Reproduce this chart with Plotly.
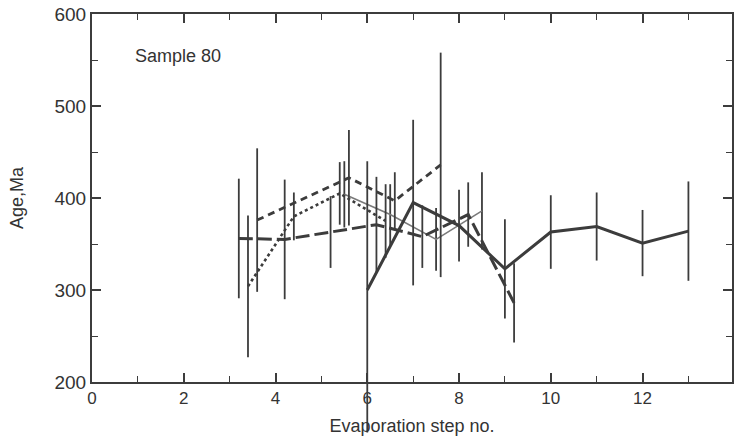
import plotly.graph_objects as go

# Series A (thick solid)
a_x = [6, 7, 8, 9, 10, 11, 12, 13]
a_y = [300, 395, 370, 323, 363, 369, 351, 364]
a_err_plus = [140, 90, 39, 54, 40, 37, 36, 54]
a_err_minus = [155, 90, 39, 54, 40, 37, 36, 54]

# Series B (long dashes)
b_x = [3.2, 4.2, 5.2, 6.2, 7.2, 8.2, 9.2]
b_y = [356, 355, 363, 371, 358, 382, 286]
b_err = [65, 65, 39, 52, 34, 35, 43]

# Series C (short dashes)
c_x = [3.6, 5.6, 6.6, 7.6]
c_y = [376, 422, 397, 436]
c_err = [78, 52, 31, 122]

# Series D (dotted)
d_x = [3.4, 4.4, 5.4, 6.4]
d_y = [304, 380, 405, 375]
d_err = [77, 26, 34, 40]

# Series E (thin grey solid)
e_x = [5.5, 6.5, 7.5, 8.5]
e_y = [404, 382, 355, 386]
e_err = [36, 33, 34, 42]

x_ticks = [0, 2, 4, 6, 8, 10, 12]
y_ticks = [200, 300, 400, 500, 600]

X_RANGE = [0, 13.95]
Y_RANGE = [200, 600]

W, H = 734, 441
M_L, M_R, M_T, M_B = 92, 2, 14, 0
AXIS_BOTTOM_PX = 382  # row of the bottom spine

dark = "#3c3c3c"
font_family = "Liberation Sans, Arial, Helvetica, sans-serif"

# main y-axis occupies the upper part of the plotting area; a hidden
# full-height subplot shares the same scale so long error bars can run
# past the bottom spine as in the original.
area_h = H - M_T - M_B
main_h = AXIS_BOTTOM_PX - M_T
y_dom_bottom = 1 - main_h / area_h
px_per_unit = main_h / (Y_RANGE[1] - Y_RANGE[0])
y2_range = [Y_RANGE[0] - (H - M_B - AXIS_BOTTOM_PX) / px_per_unit, Y_RANGE[1]]

fig = go.Figure()


def err(plus, minus=None):
    d = dict(type="data", array=plus, visible=True, color=dark,
             thickness=1.8, width=0)
    if minus is not None:
        d["symmetric"] = False
        d["arrayminus"] = minus
    return d


fig.add_trace(go.Scatter(x=e_x, y=e_y, mode="lines",
                         line=dict(color="#7a7a7a", width=1.6),
                         error_y=err(e_err)))
fig.add_trace(go.Scatter(x=d_x, y=d_y, mode="lines",
                         line=dict(color=dark, width=2.6, dash="dot"),
                         error_y=err(d_err)))
fig.add_trace(go.Scatter(x=c_x, y=c_y, mode="lines",
                         line=dict(color=dark, width=2.8, dash="7px,5px"),
                         error_y=err(c_err)))
fig.add_trace(go.Scatter(x=b_x, y=b_y, mode="lines",
                         line=dict(color=dark, width=3, dash="14px,5px"),
                         error_y=err(b_err)))
fig.add_trace(go.Scatter(x=a_x, y=a_y, mode="lines",
                         line=dict(color=dark, width=3),
                         error_y=err(a_err_plus, a_err_minus),
                         xaxis="x2", yaxis="y2"))

axis_common = dict(
    showline=True, linecolor=dark, linewidth=2, mirror="ticks",
    ticks="inside", ticklen=9, tickwidth=1.6, tickcolor=dark,
    showgrid=False, zeroline=False, automargin=False,
    ticklabeloverflow="allow",
)

fig.update_layout(
    width=W, height=H,
    margin=dict(l=M_L, r=M_R, t=M_T, b=M_B),
    paper_bgcolor="white", plot_bgcolor="rgba(0,0,0,0)",
    showlegend=False,
    font=dict(family=font_family, color="#333"),
    xaxis=dict(range=X_RANGE, tickvals=x_ticks, domain=[0, 1],
               tickfont=dict(family=font_family, size=17, color="#333"),
               minor=dict(dtick=1, tick0=0, ticks="inside", ticklen=6,
                          tickwidth=1.4, tickcolor=dark),
               title=dict(text="Evaporation step no.",
                          font=dict(family=font_family, size=18, color="#333"),
                          standoff=12),
               **axis_common),
    yaxis=dict(range=Y_RANGE, tickvals=y_ticks, domain=[y_dom_bottom, 1],
               tickfont=dict(family=font_family, size=19, color="#333"),
               minor=dict(dtick=50, tick0=200, ticks="inside", ticklen=6,
                          tickwidth=1.4, tickcolor=dark),
               title=dict(text="Age,Ma",
                          font=dict(family=font_family, size=18, color="#333"),
                          standoff=26),
               **axis_common),
    xaxis2=dict(range=X_RANGE, domain=[0, 1], anchor="y2", visible=False,
                showgrid=False, zeroline=False),
    yaxis2=dict(range=y2_range, domain=[0, 1], anchor="x2", visible=False,
                showgrid=False, zeroline=False),
    annotations=[dict(x=0.9, y=554, xref="x", yref="y", text="Sample 80",
                      showarrow=False, xanchor="left", yanchor="middle",
                      font=dict(family=font_family, size=18, color="#333"))],
)

# remove the default 8px page margin so the figure fills the window exactly
fig.write_html("out.html",
               config={"displayModeBar": False},
               post_script="document.body.style.margin='0';")
